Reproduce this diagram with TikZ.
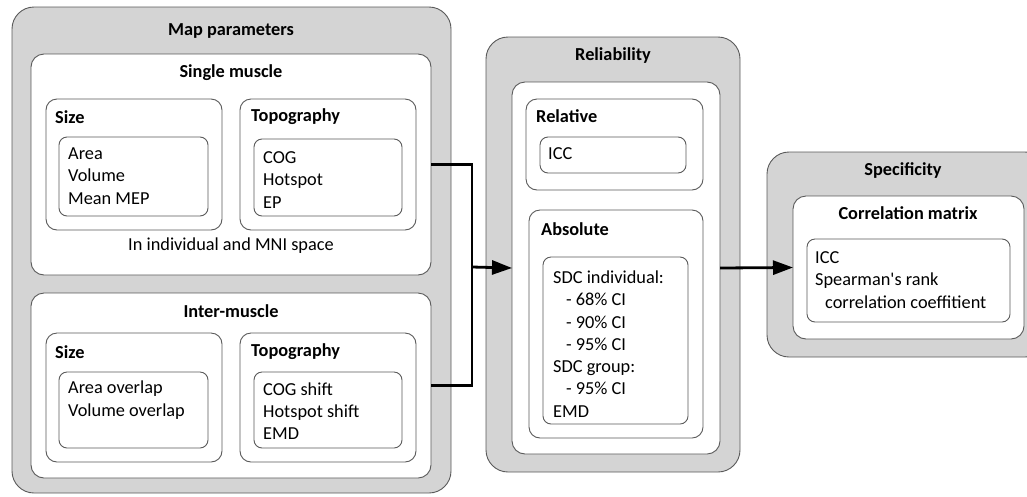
\documentclass[tikz,border=0pt]{standalone}
\usepackage{fontspec}
\setmainfont{Carlito}
\usetikzlibrary{arrows.meta}
\definecolor{panelgray}{HTML}{D4D4D4}
\definecolor{edgegray}{HTML}{5A5A5A}
\newcommand{\fsz}{\fontsize{18.3}{22.3}\selectfont}
\newcommand{\ind}{\hspace*{13pt}}
\tikzset{
  box/.style={draw=edgegray, line width=0.9pt, anchor=north west, inner sep=0pt, outer sep=0pt},
  panel/.style={box, fill=panelgray, rounded corners=22pt},
  group/.style={box, fill=white, rounded corners=13pt},
  sub/.style={box, fill=white, rounded corners=11pt},
  leaf/.style={box, fill=white, rounded corners=8pt},
  title/.style={font=\fsz\bfseries, inner sep=0pt},
  head/.style={font=\fsz\bfseries, anchor=west, inner sep=0pt},
  items/.style={font=\fsz, align=left, anchor=west, inner sep=0pt},
  plain/.style={font=\fsz, inner sep=0pt},
  conn/.style={line width=2.8pt, line join=miter},
  arr/.style={conn, -{Triangle[length=20pt,width=14pt]}}
}
\begin{document}
\begin{tikzpicture}[x=1pt, y=-1pt]
\useasboundingbox (0,0) rectangle (1027,496);

% ---------- Map parameters ----------
\node[panel, minimum width=439pt, minimum height=486pt] (map) at (12,7) {};
\node[title] (mapt) at (231,31) {Map parameters};

\node[group, minimum width=400pt, minimum height=221pt] (sm) at (31,54) {};
\node[title] (smt) at (231,73) {Single muscle};
\node[sub, minimum width=176pt, minimum height=131pt] (sms) at (46,99) {};
\node[head] (smst) at (55,117) {Size};
\node[leaf, minimum width=149pt, minimum height=79pt] (smsl) at (59,137) {};
\node[items] (smsi) at (68,176) {Area\\Volume\\Mean MEP};
\node[sub, minimum width=176pt, minimum height=131pt] (smt2) at (240,99) {};
\node[head] (smtt) at (251,117) {Topography};
\node[leaf, minimum width=148pt, minimum height=77pt] (smtl) at (254,139) {};
\node[items] (smti) at (263,180) {COG\\Hotspot\\EP};
\node[plain] (space) at (231,246) {In individual and MNI space};

\node[group, minimum width=400pt, minimum height=185pt] (im) at (31,293) {};
\node[title] (imt) at (231,311) {Inter-muscle};
\node[sub, minimum width=176pt, minimum height=129pt] (ims) at (46,333) {};
\node[head] (imst) at (55,352) {Size};
\node[leaf, minimum width=149pt, minimum height=76pt] (imsl) at (59,372) {};
\node[items] (imsi) at (68,400) {Area overlap\\Volume overlap};
\node[sub, minimum width=176pt, minimum height=129pt] (imtp) at (240,333) {};
\node[head] (imtt) at (251,352) {Topography};
\node[leaf, minimum width=148pt, minimum height=76pt] (imtl) at (254,372) {};
\node[items] (imti) at (263,411) {COG shift\\Hotspot shift\\EMD};

% ---------- Reliability ----------
\node[panel, minimum width=254pt, minimum height=435pt] (rel) at (486,37) {};
\node[title] (relt) at (613,56) {Reliability};
\node[group, minimum width=208pt, minimum height=372pt] (relw) at (512,82) {};
\node[sub, minimum width=177pt, minimum height=91pt] (rr) at (526,99) {};
\node[head] (rrt) at (536,116) {Relative};
\node[leaf, minimum width=146pt, minimum height=36pt] (rrl) at (540,137) {};
\node[items] (rri) at (548,154) {ICC};
\node[sub, minimum width=174pt, minimum height=228pt] (ra) at (529,210) {};
\node[head] (rat) at (541,229) {Absolute};
\node[leaf, minimum width=145pt, minimum height=167pt] (ral) at (543,257) {};
\node[items] (rai) at (553,344) {SDC individual:\\\ind- 68\% CI\\\ind- 90\% CI\\\ind- 95\% CI\\SDC group:\\\ind- 95\% CI\\EMD};

% ---------- Specificity ----------
\node[panel, minimum width=280pt, minimum height=205pt] (spec) at (767,152) {};
\node[title] (spect) at (903,170) {Specificity};
\node[group, minimum width=231pt, minimum height=143pt] (specw) at (793,196) {};
\node[title] (cmt) at (908,213) {Correlation matrix};
\node[leaf, minimum width=203pt, minimum height=83pt] (cml) at (807,239) {};
\node[items] (cmi) at (815,280) {ICC\\Spearman\textquotesingle s rank\\\hspace*{10pt}correlation coeffitient};

% ---------- Connectors ----------
\coordinate (j) at (472,267);
\draw[conn] (sm.east) -| (j) |- (im.east);
\draw[arr] (j) -- (relw.west);
\draw[arr] (relw.east) -- (specw.west);
\end{tikzpicture}
\end{document}
